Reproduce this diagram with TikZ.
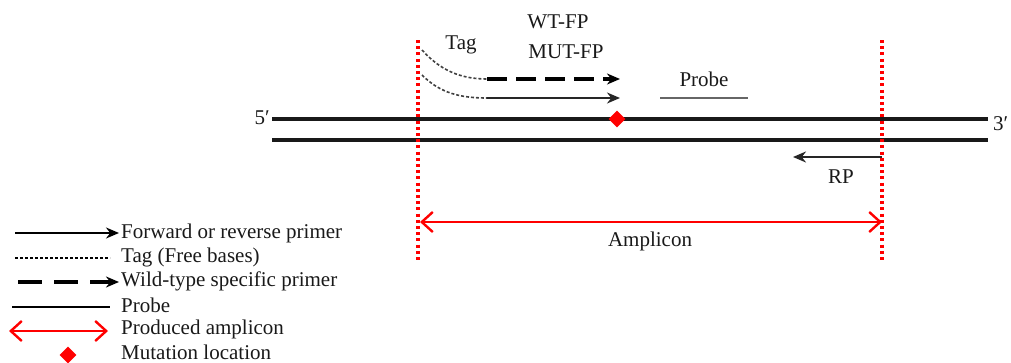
\documentclass[tikz,border=0pt]{standalone}
\usepackage{fontspec}
\setmainfont{Liberation Serif}
\usetikzlibrary{arrows.meta}
\begin{document}
\begin{tikzpicture}[x=1pt,y=-1pt,
  every node/.style={font=\fontsize{21}{24}\selectfont, inner sep=0pt, text=black!90},
  strand/.style={line width=3.6pt, black!90},
  ampline/.style={red, line width=3.2pt, dash pattern=on 3pt off 3.2pt},
  tagline/.style={black!75, line width=1.6pt, dash pattern=on 3pt off 2pt},
  primer/.style={black!85, line width=2pt, -{Stealth[length=13pt,width=11pt]}},
  wtprimer/.style={black, line width=3.4pt, dash pattern=on 20pt off 9pt, -{Stealth[length=13pt,width=11pt]}},
  probeline/.style={black!60, line width=2pt},
  amparrow/.style={red, line width=2.6pt, {Straight Barb[length=11pt,width=20pt,line width=2.4pt]}-{Straight Barb[length=11pt,width=20pt,line width=2.4pt]}},
  mut/.style={fill=red, draw=none, minimum size=12pt, rotate=45, inner sep=0pt},
]
\useasboundingbox (0,0) rectangle (1011,362);
% strands
\coordinate (s1a) at (272,119); \coordinate (s1b) at (988,119);
\coordinate (s2a) at (272,140); \coordinate (s2b) at (988,140);
\draw[strand] (s1a) -- (s1b);
\draw[strand] (s2a) -- (s2b);
\node[anchor=east] (p5) at (270,118) {5′};
\node[anchor=west] (p3) at (993,124) {3′};
% amplicon boundaries
\coordinate (la) at (418,40); \coordinate (lb) at (418,262);
\coordinate (ra) at (882,40); \coordinate (rb) at (882,262);
\draw[ampline] (la) -- (lb);
\draw[ampline] (ra) -- (rb);
% forward primers with tags
\coordinate (t1a) at (422,50); \coordinate (t1b) at (487,79); \coordinate (t1c) at (620,79);
\coordinate (t2a) at (422,75); \coordinate (t2b) at (487,98); \coordinate (t2c) at (620,98);
\draw[tagline] (t1a) .. controls (440,70) and (460,79) .. (t1b);
\draw[tagline] (t2a) .. controls (440,93) and (460,98) .. (t2b);
\draw[wtprimer] (t1b) -- (t1c);
\draw[primer] (t2b) -- (t2c);
\node (tag) at (461,45) {Tag};
\node (wt) at (558,22) {WT-FP};
\node (mutfp) at (566,52) {MUT-FP};
% mutation
\node[mut] (m) at (617,119) {};
% probe
\coordinate (pa) at (660,98); \coordinate (pb) at (748,98);
\draw[probeline] (pa) -- (pb);
\node (probe) at (704,79) {Probe};
% reverse primer
\coordinate (rpa) at (882,157); \coordinate (rpb) at (793,157);
\draw[primer] (rpa) -- (rpb);
\node (rp) at (841,177) {RP};
% amplicon
\coordinate (aa) at (420,222); \coordinate (ab) at (882,222);
\draw[amparrow] (aa) -- (ab);
\node (amp) at (650,241) {Amplicon};
% legend
\coordinate (l1a) at (15,233); \coordinate (l1b) at (119,233);
\draw[primer, black] (l1a) -- (l1b);
\node[anchor=west] (t1) at (121,233) {Forward or reverse primer};
\coordinate (l2a) at (15,258); \coordinate (l2b) at (110,258);
\draw[tagline, black] (l2a) -- (l2b);
\node[anchor=west] (t2) at (121,257) {Tag (Free bases)};
\coordinate (l3a) at (18,282); \coordinate (l3b) at (119,282);
\draw[wtprimer, dash pattern=on 24pt off 12pt] (l3a) -- (l3b);
\node[anchor=west] (t3) at (121,281) {Wild-type specific primer};
\coordinate (l4a) at (12,307); \coordinate (l4b) at (110,307);
\draw[black, line width=1.6pt] (l4a) -- (l4b);
\node[anchor=west] (t4) at (121,305) {Probe};
\coordinate (l5a) at (9,331); \coordinate (l5b) at (108,331);
\draw[amparrow] (l5a) -- (l5b);
\node[anchor=west] (t5) at (121,329) {Produced amplicon};
\node[mut] (m2) at (68,355) {};
\node[anchor=west] (t6) at (121,352) {Mutation location};
\end{tikzpicture}
\end{document}
